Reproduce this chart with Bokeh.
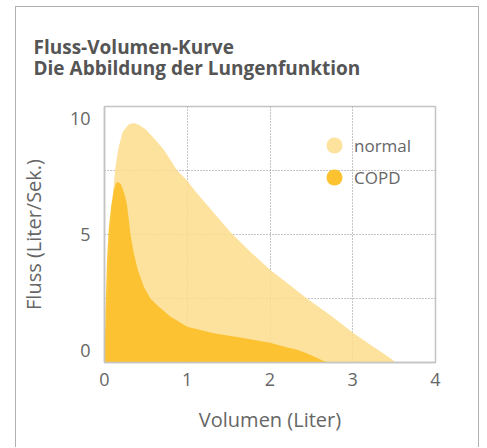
from bokeh.plotting import figure
from bokeh.models import Legend, LegendItem, FixedTicker, Range1d
from bokeh.embed import file_html
from bokeh.resources import INLINE

# ---- data ----
normal_x = [0.0, 0.02, 0.045, 0.07, 0.1, 0.13, 0.17, 0.22, 0.29, 0.354, 0.42, 0.5,
            0.6, 0.72, 0.878, 1.0, 1.12, 1.32, 1.52, 1.72, 2.0, 2.25, 2.45, 2.75, 3.01,
            3.2, 3.34, 3.45, 3.52]
normal_y = [0.0, 1.5, 3.5, 5.0, 6.5, 7.6, 8.4, 9.0, 9.3, 9.36, 9.28, 9.1,
            8.75, 8.3, 7.5, 7.1, 6.6, 5.85, 5.1, 4.45, 3.62, 3.0, 2.49, 1.8, 1.14,
            0.72, 0.42, 0.18, 0.0]
copd_x = [0.0, 0.012, 0.03, 0.05, 0.08, 0.11, 0.14, 0.165, 0.2, 0.24, 0.27, 0.294,
          0.314, 0.354, 0.403, 0.475, 0.556, 0.657, 0.8, 1.0, 1.32, 1.64, 2.0, 2.2,
          2.33, 2.45, 2.53, 2.65, 2.71]
copd_y = [0.0, 2.0, 4.0, 5.2, 6.1, 6.7, 7.0, 7.05, 6.95, 6.6, 6.2, 5.57,
          5.0, 4.27, 3.61, 2.96, 2.49, 2.18, 1.79, 1.40, 1.14, 0.98, 0.77, 0.6,
          0.5, 0.35, 0.23, 0.06, 0.0]
series_names = ["normal", "COPD"]
x_ticks = [0, 1, 2, 3, 4]
y_tick_pos = [0.45, 5, 9.55]
y_tick_labels = ["0", "5", "10"]
title_lines = ["Fluss-Volumen-Kurve", "Die Abbildung der Lungenfunktion"]
x_label = "Volumen (Liter)"
y_label = "Fluss (Liter/Sek.)"

FONT = "Open Sans"
TXT = "#666666"
FRAME = "#c4c4c4"
NAN = float("nan")

p = figure(width=464, height=441, x_range=Range1d(0, 4), y_range=Range1d(0, 10),
           output_backend="svg", toolbar_location=None,
           min_border_left=88, min_border_right=45, min_border_top=99, min_border_bottom=86)
p.styles = {"border": "1px solid #b0b0b0", "border-bottom": "none",
            "margin-left": "15px", "margin-top": "6px"}
p.background_fill_color = "white"
p.border_fill_color = "white"
p.outline_line_color = FRAME
p.outline_line_width = 1.5

# two-line title
p.title.text = "\n".join(title_lines)
p.title.align = "left"
p.title.offset = -71
p.title.text_font = FONT
p.title.text_font_size = "19px"
p.title.text_font_style = "bold"
p.title.text_color = "#555555"
p.title.text_line_height = 0.82
p.title.standoff = 50

# areas (closed along y = 0)
p.patch(normal_x, normal_y, fill_color="#FDDD8D", fill_alpha=0.85, line_color=None)
p.patch(copd_x, copd_y, fill_color="#FCBC1D", fill_alpha=0.85, line_color=None)

# legend markers (no visible points)
leg_colors = ["#FDE29E", "#FCC230"]
leg_y = [197, 165]
for name, col, ly in zip(series_names, leg_colors, leg_y):
    r = p.scatter(x=[NAN], y=[NAN], marker="circle", fill_color=col, line_color=None)
    lg = Legend(items=[LegendItem(label=name, renderers=[r])],
                location=(210, ly), glyph_width=40, glyph_height=40, spacing=0,
                padding=0, margin=0, border_line_color=None, background_fill_alpha=0,
                label_text_font=FONT, label_text_font_size="17px", label_text_color=TXT,
                label_standoff=-1)
    p.add_layout(lg, "center")

# grid
p.xgrid.ticker = FixedTicker(ticks=[1, 2, 3])
p.ygrid.ticker = FixedTicker(ticks=[2.5, 5, 7.5])
for g in (p.xgrid, p.ygrid):
    g.grid_line_color = "#8a8a8a"
    g.grid_line_dash = "1 2"
    g.grid_line_width = 1

# axes
p.xaxis.ticker = FixedTicker(ticks=x_ticks)
p.yaxis.ticker = FixedTicker(ticks=y_tick_pos)
p.yaxis.major_label_overrides = {pos: lab for pos, lab in zip(y_tick_pos, y_tick_labels)}
p.xaxis.axis_label = x_label
p.yaxis.axis_label = y_label
for ax in (p.xaxis, p.yaxis):
    ax.axis_line_color = FRAME
    ax.axis_line_width = 1.5
    ax.major_tick_line_color = None
    ax.minor_tick_line_color = None
    ax.major_label_text_font = FONT
    ax.major_label_text_font_size = "18px"
    ax.major_label_text_color = TXT
    ax.axis_label_text_font = FONT
    ax.axis_label_text_font_size = "20px"
    ax.axis_label_text_color = TXT
    ax.axis_label_text_font_style = "normal"
p.xaxis.major_label_standoff = 4
p.xaxis.axis_label_standoff = 17
p.yaxis.major_label_standoff = 8
p.yaxis.axis_label_standoff = 20

open("out.html", "w").write(file_html(p, INLINE))
